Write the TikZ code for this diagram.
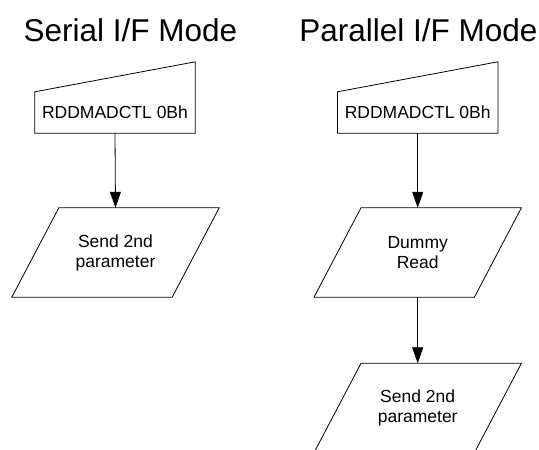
\documentclass[tikz,border=0pt]{standalone}
\usepackage{fontspec}
\setmainfont{Liberation Sans}
\usetikzlibrary{arrows.meta}
\begin{document}
\begin{tikzpicture}[x=1pt,y=-1pt,
  title/.style={font=\fontsize{31.5}{36}\selectfont, inner sep=0, anchor=base},
  mbox/.style={minimum width=160pt, minimum height=41pt, inner sep=0, font=\fontsize{17.5}{20}\selectfont},
  iobox/.style={minimum width=207pt, minimum height=89pt, inner sep=0, align=center, font=\fontsize{17.5}{20}\selectfont},
  shp/.style={draw=black, line width=0.8pt, line join=miter},
  conn/.style={draw=black, line width=0.8pt, -{Triangle[length=16pt,width=11pt]}}]
\useasboundingbox (0,0) rectangle (539,450);
\clip (0,0) rectangle (539,450);
% titles
\node[title] (t1) at (130.5,41) {Serial I/F Mode};
\node[title] (t2) at (418.5,41) {Parallel I/F Mode};
% left column
\node[mbox] (m1) at (115,112.5) {RDDMADCTL 0Bh};
\draw[shp] (m1.north west) -- ([yshift=30pt]m1.north east) -- (m1.south east) -- (m1.south west) -- cycle;
\node[iobox] (s1) at (115.5,252.5) {Send 2nd\\parameter};
\draw[shp] ([xshift=47pt]s1.north west) -- (s1.north east) -- ([xshift=-47pt]s1.south east) -- (s1.south west) -- cycle;
\draw[conn] (m1.south) -- (s1.north);
% right column
\node[mbox] (m2) at (417.7,112.5) {RDDMADCTL 0Bh};
\draw[shp] (m2.north west) -- ([yshift=30pt]m2.north east) -- (m2.south east) -- (m2.south west) -- cycle;
\node[iobox] (d2) at (417.7,252.5) {Dummy\\Read};
\draw[shp] ([xshift=47pt]d2.north west) -- (d2.north east) -- ([xshift=-47pt]d2.south east) -- (d2.south west) -- cycle;
\node[iobox] (s2) at (417.7,408) {Send 2nd\\parameter};
\draw[shp] ([xshift=47pt]s2.north west) -- (s2.north east) -- ([xshift=-47pt]s2.south east) -- (s2.south west) -- cycle;
\draw[conn] (m2.south) -- (d2.north);
\draw[conn] (d2.south) -- (s2.north);
\end{tikzpicture}
\end{document}
